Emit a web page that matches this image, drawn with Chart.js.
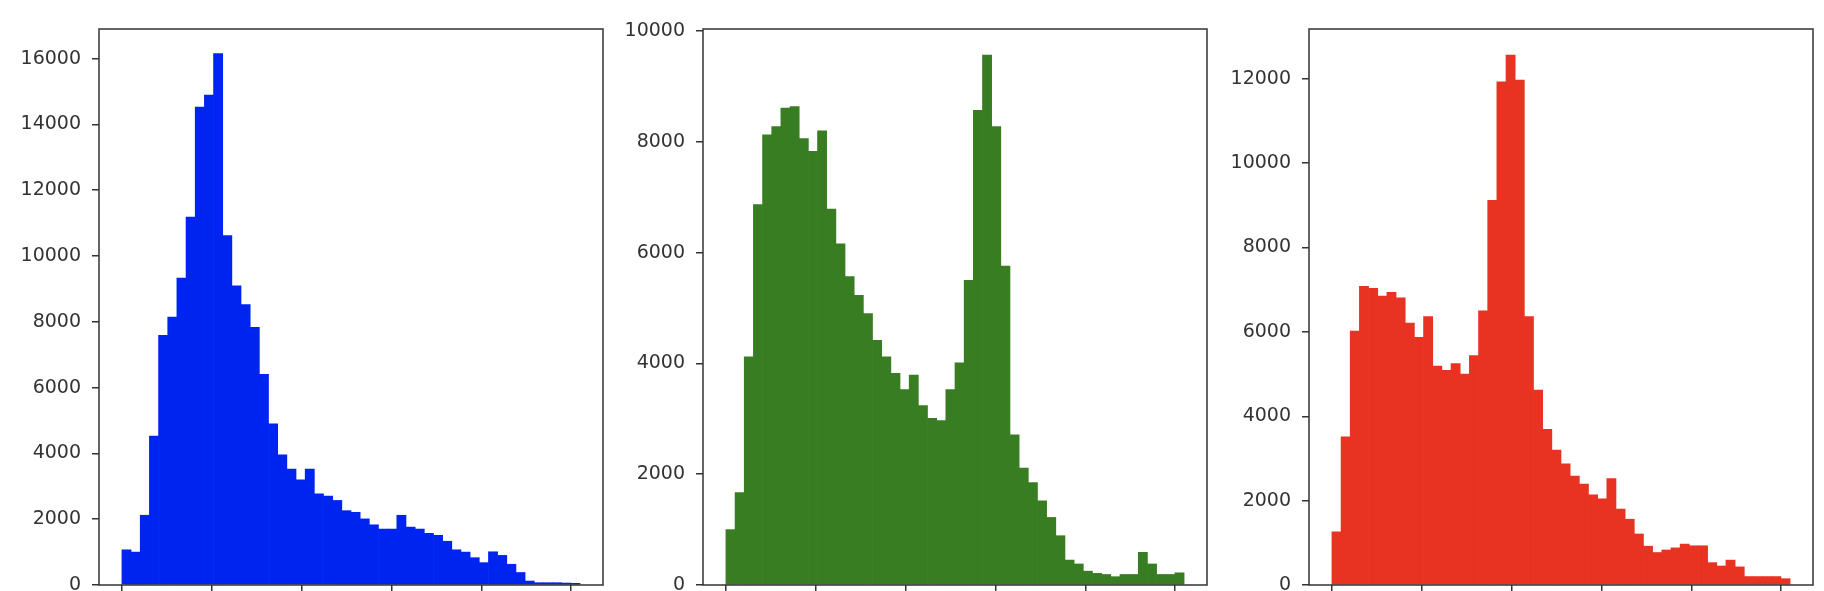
<!DOCTYPE html>
<html>
<head>
<meta charset="utf-8">
<script src="https://cdn.jsdelivr.net/npm/chart.js@4.4.0/dist/chart.umd.min.js"></script>
<style>
    html, body { margin: 0; padding: 0; background: #fff; overflow: hidden; }
    body { width: 1824px; height: 591px; position: relative; }
    canvas { position: absolute; top: 0; }
</style>
</head>
<body>
<canvas id="blueHist"></canvas>
<canvas id="greenHist"></canvas>
<canvas id="redHist"></canvas>
<script>
// Histogram data (50 bins over pixel values 0-255)
const binWidth = 5.1;
const xTicks = [0, 50, 100, 150, 200, 250];

const blueCounts = [1070, 1000, 2120, 4530, 7590, 8140, 9330, 11180, 14530, 14890,
    16150, 10620, 9090, 8520, 7830, 6400, 4900, 3960, 3520, 3200,
    3520, 2770, 2700, 2570, 2260, 2210, 2010, 1830, 1700, 1700,
    2120, 1760, 1700, 1570, 1510, 1330, 1070, 1000, 830, 680,
    1010, 900, 630, 380, 120, 70, 70, 70, 60, 50];
const blueTicks = [0, 2000, 4000, 6000, 8000, 10000, 12000, 14000, 16000];

const greenCounts = [1000, 1670, 4120, 6870, 8130, 8280, 8610, 8640, 8060, 7830,
    8200, 6790, 6160, 5570, 5230, 4900, 4420, 4120, 3820, 3530,
    3790, 3240, 3010, 2970, 3530, 4010, 5500, 8570, 9570, 8280,
    5760, 2710, 2110, 1850, 1520, 1220, 890, 450, 380, 250,
    210, 190, 150, 190, 190, 590, 380, 190, 190, 220];
const greenTicks = [0, 2000, 4000, 6000, 8000, 10000];

const redCounts = [1260, 3510, 6020, 7080, 7030, 6850, 6940, 6810, 6210, 5870,
    6360, 5190, 5090, 5250, 5000, 5440, 6500, 9120, 11930, 12560,
    11970, 6360, 4620, 3690, 3200, 2870, 2580, 2390, 2140, 2040,
    2520, 1800, 1560, 1210, 920, 770, 830, 880, 970, 930,
    930, 530, 450, 590, 430, 200, 200, 200, 200, 150];
const redTicks = [0, 2000, 4000, 6000, 8000, 10000, 12000];

// draws the box around each plot area
const frame = {
    id: 'frame',
    afterDraw(chart) {
        const { ctx, chartArea: a } = chart;
        ctx.save();
        ctx.strokeStyle = '#333';
        ctx.lineWidth = 1.5;
        ctx.strokeRect(a.left, a.top, a.right - a.left, a.bottom - a.top);
        ctx.restore();
    }
};

function makeHist(id, counts, color, yTicks, yMax, spineLeft) {
    const axisW = 90;
    const plotW = 504;
    const canvas = document.getElementById(id);
    canvas.width = axisW + plotW + 4;
    canvas.height = 591;
    canvas.style.left = (spineLeft - axisW) + 'px';

    const points = counts.map((c, i) => ({ x: (i + 0.5) * binWidth, y: c }));

    new Chart(canvas.getContext('2d'), {
        type: 'bar',
        data: {
            datasets: [{
                data: points,
                backgroundColor: color,
                borderWidth: 0,
                barPercentage: 1,
                categoryPercentage: 1
            }]
        },
        options: {
            responsive: false,
            animation: false,
            layout: { padding: { top: 29, right: 4, left: 0, bottom: 0 } },
            plugins: { legend: { display: false }, tooltip: { enabled: false } },
            scales: {
                x: {
                    type: 'linear',
                    min: -12.75,
                    max: 267.75,
                    offset: false,
                    afterBuildTicks: s => { s.ticks = xTicks.map(v => ({ value: v })); },
                    afterFit: s => { s.height = 6; s.paddingLeft = 0; s.paddingRight = 0; },
                    ticks: { display: false },
                    grid: { offset: false, drawOnChartArea: false, drawTicks: true, tickLength: 7, color: '#333', lineWidth: 1.5 },
                    border: { display: false }
                },
                y: {
                    min: 0,
                    max: yMax,
                    afterBuildTicks: s => { s.ticks = yTicks.map(v => ({ value: v })); },
                    afterFit: s => { s.width = axisW; s.paddingTop = 0; s.paddingBottom = 0; },
                    ticks: {
                        callback: v => String(v),
                        color: '#333',
                        padding: 11,
                        font: { family: 'DejaVu Sans', size: 19 }
                    },
                    grid: { drawOnChartArea: false, drawTicks: true, tickLength: 7, color: '#333', lineWidth: 1.5 },
                    border: { display: false }
                }
            }
        },
        plugins: [frame]
    });
}

makeHist('blueHist', blueCounts, '#0024f0', blueTicks, 16900, 99);
makeHist('greenHist', greenCounts, '#387d22', greenTicks, 10040, 703);
makeHist('redHist', redCounts, '#e83222', redTicks, 13180, 1309);
</script>
</body>
</html>
